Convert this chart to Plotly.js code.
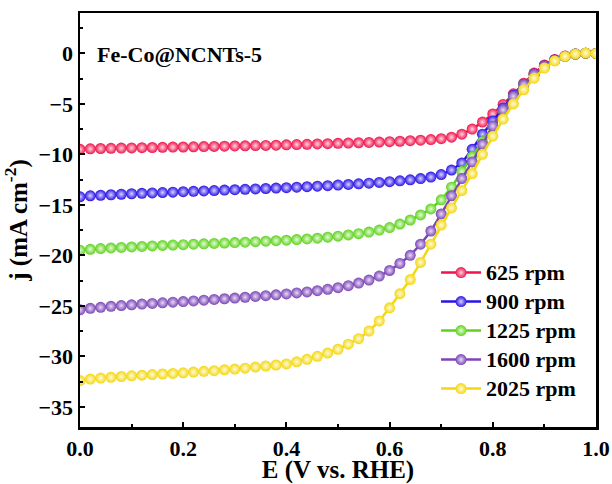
<!DOCTYPE html>
<html>
<head>
<meta charset="utf-8">
<script src="https://cdn.plot.ly/plotly-3.0.1.min.js"></script>
<style>
  html, body { margin: 0; padding: 0; background: #fff; }
  #plot { width: 612px; height: 484px; }
</style>
</head>
<body>
<div id="plot"></div>
<script>
// Potential (V vs. RHE), sampled every 0.02 V
const potential = [
  0.00, 0.02, 0.04, 0.06, 0.08, 0.10, 0.12, 0.14, 0.16, 0.18,
  0.20, 0.22, 0.24, 0.26, 0.28, 0.30, 0.32, 0.34, 0.36, 0.38,
  0.40, 0.42, 0.44, 0.46, 0.48, 0.50, 0.52, 0.54, 0.56, 0.58,
  0.60, 0.62, 0.64, 0.66, 0.68, 0.70, 0.72, 0.74, 0.76, 0.78,
  0.80, 0.82, 0.84, 0.86, 0.88, 0.90, 0.92, 0.94, 0.96, 0.98, 1.00
];

// Current density (mA cm^-2) at each rotation rate
const j625 = [
  -9.50, -9.45, -9.42, -9.40, -9.38, -9.36, -9.34, -9.32, -9.30, -9.28,
  -9.27, -9.25, -9.23, -9.21, -9.19, -9.17, -9.15, -9.13, -9.11, -9.09,
  -9.06, -9.03, -9.00, -8.97, -8.94, -8.91, -8.88, -8.85, -8.82, -8.78,
  -8.74, -8.70, -8.65, -8.60, -8.53, -8.45, -8.30, -8.00, -7.50, -6.80,
  -6.00, -5.05, -4.00, -2.95, -1.95, -1.15, -0.60, -0.25, -0.05, 0.02, 0.00
];
const j900 = [
  -14.20, -14.10, -14.05, -14.00, -13.95, -13.90, -13.86, -13.82, -13.78, -13.74,
  -13.70, -13.66, -13.62, -13.58, -13.54, -13.50, -13.46, -13.42, -13.38, -13.34,
  -13.30, -13.25, -13.20, -13.15, -13.10, -13.04, -12.98, -12.92, -12.85, -12.78,
  -12.70, -12.62, -12.52, -12.40, -12.25, -12.00, -11.55, -10.85, -9.50, -8.00,
  -6.70, -5.40, -4.15, -3.05, -2.05, -1.25, -0.65, -0.28, -0.06, 0.02, 0.00
];
const j1225 = [
  -19.50, -19.40, -19.33, -19.27, -19.22, -19.17, -19.12, -19.07, -19.02, -18.98,
  -18.94, -18.90, -18.86, -18.82, -18.78, -18.74, -18.70, -18.65, -18.60, -18.55,
  -18.50, -18.44, -18.38, -18.30, -18.20, -18.10, -17.98, -17.85, -17.70, -17.50,
  -17.25, -16.90, -16.50, -16.00, -15.40, -14.50, -13.25, -11.70, -10.25, -8.75,
  -7.25, -5.70, -4.30, -3.10, -2.10, -1.30, -0.70, -0.30, -0.07, 0.02, 0.00
];
const j1600 = [
  -25.40, -25.25, -25.15, -25.05, -24.97, -24.90, -24.83, -24.76, -24.70, -24.64,
  -24.58, -24.51, -24.44, -24.37, -24.30, -24.23, -24.15, -24.07, -23.99, -23.91,
  -23.82, -23.72, -23.62, -23.50, -23.36, -23.20, -23.00, -22.75, -22.45, -22.05,
  -21.50, -20.80, -20.00, -18.90, -17.60, -15.90, -14.10, -12.40, -10.75, -9.00,
  -7.20, -5.60, -4.25, -3.10, -2.10, -1.30, -0.70, -0.30, -0.07, 0.02, 0.00
];
const j2025 = [
  -32.40, -32.25, -32.15, -32.08, -32.00, -31.93, -31.87, -31.81, -31.75, -31.69,
  -31.63, -31.56, -31.49, -31.42, -31.34, -31.26, -31.17, -31.07, -30.96, -30.86,
  -30.75, -30.55, -30.30, -30.00, -29.68, -29.30, -28.80, -28.25, -27.50, -26.50,
  -25.20, -23.80, -22.40, -20.70, -18.90, -17.00, -15.30, -13.60, -11.90, -10.00,
  -8.20, -6.50, -5.00, -3.60, -2.45, -1.45, -0.75, -0.30, -0.05, 0.03, 0.00
];

const seriesNames = ['625 rpm', '900 rpm', '1225 rpm', '1600 rpm', '2025 rpm'];
const seriesData = [j625, j900, j1225, j1600, j2025];
const seriesColors = ['#f0124c', '#2a12e6', '#5fd21f', '#7b45b6', '#f4d70c'];
const highlightColors = ['#ffd6df', '#d8d4ff', '#e4fbd6', '#e6daf5', '#fffbe0'];

const fontFamily = '"Liberation Serif", "Times New Roman", serif';

const traces = seriesData.map((ys, i) => ({
  x: potential,
  y: ys,
  // larger glyphs inside a tighter legend row
  name: '<span style="font-size:22px">' + seriesNames[i] + '</span>',
  type: 'scatter',
  mode: 'lines+markers',
  line: { color: seriesColors[i], width: 2.5 },
  marker: {
    color: seriesColors[i],
    size: 11,
    gradient: { type: 'radial', color: highlightColors[i] },
    line: { width: 0 }
  }
}));

const axisCommon = {
  showline: true,
  linecolor: '#000',
  linewidth: 2.5,
  mirror: true,
  ticks: 'inside',
  ticklen: 5,
  tickwidth: 2,
  tickcolor: '#000',
  showgrid: false,
  zeroline: false,
  tickfont: { family: fontFamily, size: 22, color: '#000', weight: 'bold' },
  minor: { ticks: 'inside', ticklen: 3, tickwidth: 2, tickcolor: '#000', showgrid: false }
};

const layout = {
  width: 612,
  height: 484,
  margin: { l: 80, r: 16, t: 13, b: 57 },
  paper_bgcolor: '#fff',
  plot_bgcolor: '#fff',
  font: { family: fontFamily, color: '#000' },
  showlegend: true,
  legend: {
    x: 0.69, y: 0.42, xanchor: 'left', yanchor: 'top',
    bgcolor: 'rgba(0,0,0,0)',
    font: { family: fontFamily, size: 20, color: '#000', weight: 'bold' },
    tracegroupgap: 0,
    itemwidth: 40
  },
  xaxis: Object.assign({}, axisCommon, {
    range: [0, 1.0],
    tickmode: 'array',
    tickvals: [0, 0.2, 0.4, 0.6, 0.8, 1.0],
    ticktext: ['0.0', '0.2', '0.4', '0.6', '0.8', '1.0'],
    minor: Object.assign({}, axisCommon.minor, { dtick: 0.1 }),
    title: { text: 'E (V vs. RHE)', font: { family: fontFamily, size: 25, color: '#000', weight: 'bold' }, standoff: 7 }
  }),
  yaxis: Object.assign({}, axisCommon, {
    range: [-37, 4],
    tickmode: 'array',
    tickvals: [0, -5, -10, -15, -20, -25, -30, -35],
    minor: Object.assign({}, axisCommon.minor, { dtick: 2.5, tick0: 0 }),
    title: { text: 'j (mA cm<sup>-2</sup>)', font: { family: fontFamily, size: 25, color: '#000', weight: 'bold' }, standoff: 6 }
  }),
  annotations: [{
    text: '<b>Fe-Co@NCNTs-5</b>',
    xref: 'paper', yref: 'paper',
    x: 0.03, y: 0.9, xanchor: 'left', yanchor: 'middle',
    showarrow: false,
    font: { family: fontFamily, size: 22, color: '#000' }
  }]
};

Plotly.newPlot('plot', traces, layout, { displayModeBar: false, staticPlot: true });
</script>
</body>
</html>
